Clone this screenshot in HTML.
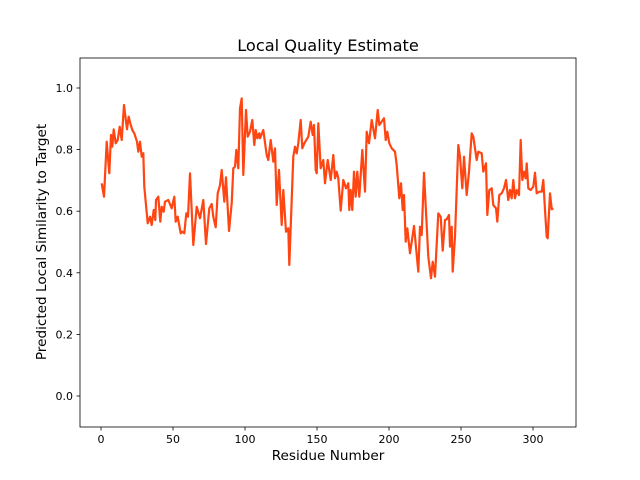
<!DOCTYPE html>
<html><head><meta charset="utf-8"><style>body{margin:0;background:#fff}svg{display:block;font-family:"DejaVu Sans","Liberation Sans",sans-serif}</style></head><body>
<svg width="640" height="480" viewBox="0 0 640 480">
<rect width="640" height="480" fill="#fff"/>
<text x="328" y="51" font-size="16.2" text-anchor="middle">Local Quality Estimate</text>
<g stroke="#000" stroke-width="0.8">
<line x1="101" y1="427" x2="101" y2="430.5"/><line x1="173" y1="427" x2="173" y2="430.5"/><line x1="245" y1="427" x2="245" y2="430.5"/><line x1="317" y1="427" x2="317" y2="430.5"/><line x1="389" y1="427" x2="389" y2="430.5"/><line x1="461" y1="427" x2="461" y2="430.5"/><line x1="533" y1="427" x2="533" y2="430.5"/>
<line x1="80" y1="396" x2="76.5" y2="396"/><line x1="80" y1="334.4" x2="76.5" y2="334.4"/><line x1="80" y1="272.8" x2="76.5" y2="272.8"/><line x1="80" y1="211.2" x2="76.5" y2="211.2"/><line x1="80" y1="149.6" x2="76.5" y2="149.6"/><line x1="80" y1="88" x2="76.5" y2="88"/>
</g>
<g font-size="11" text-anchor="middle">
<text x="101" y="443">0</text><text x="173" y="443">50</text><text x="245" y="443">100</text><text x="317" y="443">150</text><text x="389" y="443">200</text><text x="461" y="443">250</text><text x="533" y="443">300</text>
</g>
<g font-size="11" text-anchor="end">
<text x="73" y="400">0.0</text><text x="73" y="338.4">0.2</text><text x="73" y="276.8">0.4</text><text x="73" y="215.2">0.6</text><text x="73" y="153.6">0.8</text><text x="73" y="92">1.0</text>
</g>
<text x="328" y="460" font-size="13.6" text-anchor="middle">Residue Number</text>
<text transform="translate(46,242) rotate(-90)" font-size="13.6" text-anchor="middle">Predicted Local Similarity to Target</text>
<polyline fill="none" stroke="#ff4512" stroke-width="2.2" stroke-linejoin="round" points="101.7,183.3 104,196.7 106.7,141.7 109.3,173.3 111,135 112.3,146.7 113.7,129.3 115.7,143.3 117.7,140 119.7,126.7 121.7,140 124,105 127,129.3 128.7,116.7 130.3,123.3 132.3,130 134.3,133.3 137,141.7 138.3,151.7 140,141.7 141.7,156.7 143.3,153.3 144.3,186.7 147.7,223.3 150,216.7 151.7,225 153.7,210 155.3,220 156,200 158.3,196.7 160.3,221.7 161.7,206.7 163.7,211.7 165,201.7 168.3,200 171.7,208.3 174.3,196.7 175.7,221.7 177.7,216.7 180.7,233.3 182.3,231.7 184.3,233.3 186.3,213.3 188,216.7 190,173.3 193.3,245 196.7,206.7 200,218.3 203.3,200 206,244 209.3,208.3 211.7,204 213.3,216.7 215.7,227.3 217.7,193.3 220,185 221.7,170 224.3,201.7 226,177.3 229,231 231.7,203.3 233.3,168.3 235,166.7 236.3,150 238.3,168.3 240,108.3 241.7,98.3 243.3,175 246,110 247.7,136.7 250,131.7 252.3,120 254.3,145 255.7,130 257.3,138.3 259.3,133.3 260,138.3 263.3,130 266.7,155 268.3,160 270.7,140 273.3,161.7 275,148.3 276.7,205 279,170 281.7,225 283.3,190 286,231.7 288.3,228.3 289.3,265 293.3,156.7 295,146.7 296.7,153.3 298.3,143.3 300.7,120 302.3,148.3 304.3,143.3 308.3,136.7 310.7,121.7 312.7,135 314,125 315.7,170 316.7,173.3 318.3,123.3 320.7,168.3 323.3,160 325,183.3 327.7,160 330.7,180 333.3,155 335,178.3 336.7,171.7 338.3,178.3 340.7,210.7 343.3,180 346,188.3 348.3,183.3 349.3,210 350.7,190 352.3,210 354,171.7 355.7,196.7 357.3,171.7 359.3,196.7 362.3,150 365,191.7 366.7,131.7 369,143.3 371.7,120 375,138.3 377.7,110 379.3,125 384,118.3 385.7,140 387.3,131.7 389.3,143.3 391.7,148.3 395,151.7 396.7,165 399.3,198.3 401,183.3 402.7,210 404,195 405.7,241.7 407.3,228.3 410,253.3 414,226 418.3,271.7 420,226.7 421.7,235 424,172.7 428.3,256.7 431,278.3 432.7,261.7 435,276.7 438.3,213.3 440.7,216.7 442.7,250.7 445,220 446.7,219.3 449,215 450,246.7 451.7,226.7 452.7,271.7 455,236.7 458.3,145 460,156.7 462.3,188.3 464,156.7 466.7,195 469,171.7 471.7,133.3 473.3,136.7 476.7,160 478.3,151.7 481.7,153.3 483.3,171.7 486,163.3 487.3,215 489.3,190 491.7,188.3 493.3,205 496,208.3 497.3,221.7 499.3,195 501.7,193.3 504,188.3 506,180 508.3,200 510,190 511.7,198.3 513.3,180 515,198.3 516.7,190 519,195 520.7,140 522.3,180 524,171.7 525.7,178.3 526.7,163.3 528.3,188.3 530.7,190 533.3,186.7 535,172.7 536.7,193.3 539.3,191.7 541.7,191.7 543.3,180 545,210 546.7,236.7 547.7,238.3 550,193.3 551.7,209.3 553.3,208.3"/>
<rect x="80" y="58" width="496" height="369" fill="none" stroke="#000" stroke-width="0.8"/>
</svg>
</body></html>
